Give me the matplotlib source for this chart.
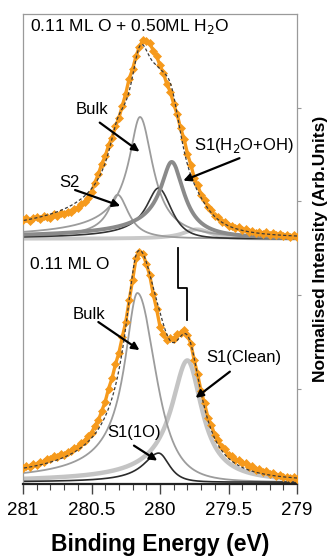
import numpy as np
import matplotlib
matplotlib.use("Agg")
import matplotlib.pyplot as plt

plt.rcParams['font.family'] = ['Liberation Sans', 'DejaVu Sans']

# Binding-energy grid of the measured spectra (eV) and intensities (arb. units)
energy = np.linspace(281.0, 279.0, 81)

# upper spectrum: 0.11 ML O + 0.50 ML H2O (sits on an offset baseline)
intensity_water = [
    2.80, 2.82, 2.79, 2.82, 2.83, 2.81, 2.84, 2.83, 2.82, 2.86,
    2.84, 2.87, 2.86, 2.89, 2.88, 2.92, 2.93, 2.97, 2.99, 3.04,
    3.10, 3.20, 3.29, 3.40, 3.48, 3.60, 3.68, 3.80, 3.89, 4.02,
    4.15, 4.31, 4.41, 4.55, 4.65, 4.72, 4.71, 4.69, 4.61, 4.55,
    4.45, 4.37, 4.25, 4.17, 4.04, 3.93, 3.78, 3.67, 3.51, 3.39,
    3.25, 3.17, 3.07, 3.01, 2.94, 2.91, 2.84, 2.83, 2.78, 2.78,
    2.74, 2.74, 2.71, 2.72, 2.69, 2.70, 2.67, 2.68, 2.66, 2.67,
    2.65, 2.67, 2.64, 2.66, 2.64, 2.65, 2.63, 2.64, 2.62, 2.64,
    2.62,
]

# lower spectrum: 0.11 ML O
intensity_oxygen = [
    0.15, 0.17, 0.16, 0.19, 0.18, 0.21, 0.22, 0.25, 0.25, 0.28,
    0.27, 0.30, 0.29, 0.32, 0.33, 0.36, 0.38, 0.42, 0.44, 0.49,
    0.53, 0.60, 0.66, 0.76, 0.86, 1.00, 1.11, 1.26, 1.38, 1.55,
    1.71, 1.94, 2.16, 2.39, 2.46, 2.44, 2.33, 2.21, 2.01, 1.85,
    1.66, 1.58, 1.52, 1.54, 1.53, 1.58, 1.59, 1.63, 1.57, 1.48,
    1.30, 1.15, 0.97, 0.84, 0.69, 0.61, 0.50, 0.45, 0.38, 0.35,
    0.29, 0.28, 0.24, 0.24, 0.20, 0.20, 0.16, 0.17, 0.13, 0.14,
    0.11, 0.12, 0.09, 0.10, 0.07, 0.08, 0.05, 0.06, 0.04, 0.05,
    0.03,
]

baseline_water = 2.60
baseline_oxygen = 0.0

# Fitted components: centre (eV), height, HWHM on the high-BE side, HWHM on the
# low-BE side, Pearson-VII exponent high-BE side, low-BE side
comp_water_bulk = [280.146, 1.30, 0.115, 0.115, 0.60, 1.0]
comp_water_s2 = [280.310, 0.47, 0.095, 0.095, 0.60, 1.2]
comp_water_dark = [280.012, 0.54, 0.120, 0.110, 0.70, 2.0]
comp_water_s1 = [279.915, 0.82, 0.120, 0.110, 0.55, 1.0]
comp_water_minor = [279.730, 0.10, 0.120, 0.120, 1.00, 1.5]
background_water = [280.000, 0.21, 0.330, 0.200, 0.70, 2.0]

comp_oxygen_bulk = [280.165, 2.02, 0.125, 0.155, 0.70, 2.0]
comp_oxygen_s1clean = [279.800, 1.30, 0.150, 0.130, 0.80, 1.0]
comp_oxygen_s1_1o = [280.010, 0.31, 0.140, 0.090, 0.90, 2.0]
background_oxygen = [280.050, 0.09, 0.300, 0.300, 1.00, 1.0]

# clean-surface peak marker positions (eV) and its heights
marker_energies = [279.87, 279.80]
marker_levels = [2.50, 2.07, 1.73]


def peak_shape(e, centre, height, w_hi, w_lo, p_hi, p_lo):
    d = e - centre
    w = np.where(d >= 0, w_hi, w_lo)
    p = np.where(d >= 0, p_hi, p_lo)
    k = 2.0 ** (1.0 / p) - 1.0
    return height * (1.0 + k * (d / w) ** 2) ** (-p)


fine = np.linspace(279.0, 281.0, 801)

fig = plt.figure(figsize=(3.28, 5.56), dpi=100)
ax = fig.add_axes([23 / 328, 1 - 484 / 556, 274 / 328, 470 / 556])

orange = '#F69A1C'
thin_grey = '#9c9c9c'
dark = '#333333'

# --- upper spectrum components
water_comps = [
    (comp_water_minor, '#c9c9c9', 2.8),
    (comp_water_s2, thin_grey, 1.3),
    (comp_water_bulk, thin_grey, 1.3),
    (comp_water_dark, dark, 1.2),
    (comp_water_s1, '#8a8a8a', 2.8),
]
env_w = baseline_water + peak_shape(fine, *background_water)
for par, col, lw in water_comps:
    y = peak_shape(fine, *par)
    env_w = env_w + y
    ax.plot(fine, baseline_water + y, color=col, lw=lw, zorder=2, solid_capstyle='butt')

# --- lower spectrum components
oxygen_comps = [
    (comp_oxygen_s1clean, '#c4c4c4', 3.2),
    (comp_oxygen_bulk, thin_grey, 1.3),
    (comp_oxygen_s1_1o, '#2b2b2b', 1.2),
]
env_o = baseline_oxygen + peak_shape(fine, *background_oxygen)
for par, col, lw in oxygen_comps:
    y = peak_shape(fine, *par)
    env_o = env_o + y
    ax.plot(fine, baseline_oxygen + y, color=col, lw=lw, zorder=2, solid_capstyle='butt')

# data points
for vals in (intensity_water, intensity_oxygen):
    ax.plot(energy, vals, color=orange, lw=2.4, marker='D', ms=3.6, mfc=orange,
            mec=orange, mew=0.5, zorder=3)

# fit envelopes
for env in (env_w, env_o):
    ax.plot(fine, env, color='#3a3a3a', lw=0.9, ls=(0, (2.5, 1.8)), zorder=4)

# clean-surface marker
e0, e1 = marker_energies
ax.plot([e0, e0, e1, e1], [marker_levels[0], marker_levels[1], marker_levels[1],
        marker_levels[2]], color='black', lw=1.3, zorder=5)

# labels
fs_lab = 12
ax.text(280.95, 4.87, '0.11 ML O + 0.50ML H$_2$O', fontsize=12.5, va='center', ha='left')
ax.text(280.95, 2.32, '0.11 ML O', fontsize=12.5, va='center', ha='left')

arrow = dict(arrowstyle='-|>', lw=1.6, color='black', mutation_scale=11,
             shrinkA=0, shrinkB=0)


def label(text, tx, ty, ax0, ay0, ax1, ay1):
    ax.text(tx, ty, text, fontsize=fs_lab, ha='center', va='center', zorder=6)
    ax.annotate('', xy=(ax1, ay1), xytext=(ax0, ay0), arrowprops=arrow, zorder=6)


label('Bulk', 280.50, 3.98, 280.44, 3.84, 280.15, 3.53)
label('S1(H$_2$O+OH)', 279.39, 3.60, 279.42, 3.46, 279.83, 3.22)
label('S2', 280.66, 3.20, 280.62, 3.12, 280.29, 2.95)
label('Bulk', 280.52, 1.79, 280.45, 1.71, 280.15, 1.41)
label('S1(Clean)', 279.39, 1.33, 279.49, 1.18, 279.74, 0.90)
label('S1(1O)', 280.19, 0.53, 280.19, 0.39, 280.02, 0.23)

# axes styling
ax.set_xlim(281.0, 279.0)
ax.set_ylim(-0.02, 5.0)
ax.set_xticks([281, 280.5, 280, 279.5, 279])
ax.set_xticklabels(['281', '280.5', '280', '279.5', '279'])
ax.set_xticks(np.arange(279.0, 281.01, 0.1), minor=True)
ax.tick_params(axis='x', which='major', direction='out', length=7, width=1.0,
               color='#444444', labelsize=13.5, pad=6)
ax.tick_params(axis='x', which='minor', direction='out', length=4, width=0.8,
               color='#444444')
ax.yaxis.tick_right()
ax.set_yticks([1, 2, 3, 4])
ax.set_yticklabels([])
ax.tick_params(axis='y', which='both', direction='out', length=3, width=0.8,
               color='#999999', left=False, right=True)
ax.yaxis.set_label_position('right')
ax.set_ylabel('Normalised Intensity (Arb.Units)', fontsize=12.5, fontweight='bold',
              labelpad=5)
ax.set_xlabel('Binding Energy (eV)', fontsize=16.5, fontweight='bold', labelpad=10)

for s in ('left', 'right', 'top'):
    ax.spines[s].set_color('#9a9a9a')
    ax.spines[s].set_linewidth(0.9)
ax.spines['bottom'].set_color('#222222')
ax.spines['bottom'].set_linewidth(1.6)

fig.savefig('out.png', dpi=100)
